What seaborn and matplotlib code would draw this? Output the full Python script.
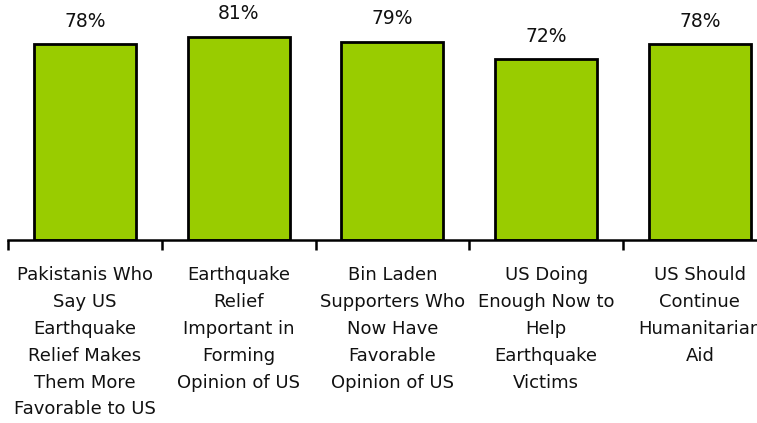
import matplotlib
matplotlib.use("Agg")
import matplotlib.pyplot as plt
import seaborn as sns
import pandas as pd

categories = [
    "Pakistanis Who\nSay US\nEarthquake\nRelief Makes\nThem More\nFavorable to US",
    "Earthquake\nRelief\nImportant in\nForming\nOpinion of US",
    "Bin Laden\nSupporters Who\nNow Have\nFavorable\nOpinion of US",
    "US Doing\nEnough Now to\nHelp\nEarthquake\nVictims",
    "US Should\nContinue\nHumanitarian\nAid",
]
values = [78, 81, 79, 72, 78]
value_labels = ["78%", "81%", "79%", "72%", "78%"]

sns.set_theme(style="white")
plt.rcParams['font.family'] = ['DejaVu Sans']

fig = plt.figure(figsize=(7.57, 4.23), dpi=100)
W, H = 757, 423
left_px, axis_y_px, top_px = 8, 240, 14
ax_w_px = 153.75 * 5
ax = fig.add_axes([left_px / W, 1 - axis_y_px / H, ax_w_px / W, (axis_y_px - top_px) / H])

df = pd.DataFrame({"cat": categories, "val": values})
sns.barplot(data=df, x="cat", y="val", color="#99CC00", saturation=1,
            edgecolor="black", linewidth=2, width=0.663, ax=ax)

ax.set_xlim(-0.5, 4.5)
ax.set_ylim(0, 90)
ax.set_xlabel("")
ax.set_ylabel("")
ax.set_yticks([])
for s in ["top", "right", "left"]:
    ax.spines[s].set_visible(False)
ax.spines["bottom"].set_color("black")
ax.spines["bottom"].set_linewidth(1.8)
ax.spines["bottom"].set_clip_on(False)

ax.set_xticks(range(len(categories)))
ax.set_xticklabels(categories, fontsize=13, color="#111111", linespacing=1.64, va="top")
ax.tick_params(axis="x", which="major", length=0, pad=18.5)
ax.set_xticks([i - 0.5 for i in range(len(categories) + 1)], minor=True)
ax.tick_params(axis="x", which="minor", length=7, width=1.8, color="black", direction="out", bottom=True)

for i, (v, lab) in enumerate(zip(values, value_labels)):
    ax.annotate(lab, (i, v), xytext=(0, 9.5), textcoords="offset points",
                ha="center", va="bottom", fontsize=13.5, color="#111111")

fig.savefig("out.png", dpi=100)
